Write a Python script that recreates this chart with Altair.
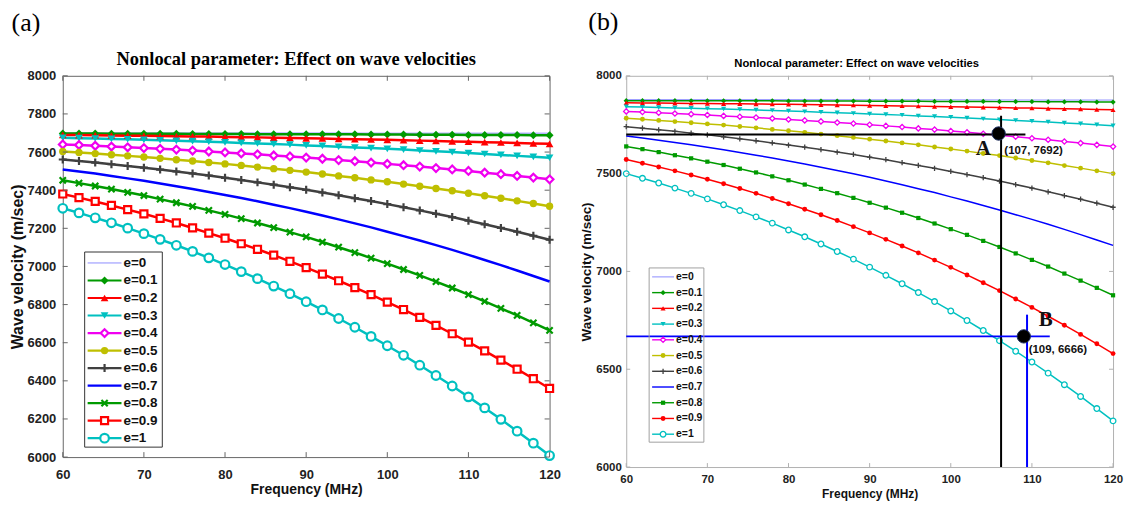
import altair as alt
import pandas as pd

# ---------------- data ----------------
freq = list(range(60, 121, 2))
freq_coarse = [60, 70, 80, 90, 100, 110, 120]
series = ["e=0", "e=0.1", "e=0.2", "e=0.3", "e=0.4", "e=0.5", "e=0.6", "e=0.7", "e=0.8", "e=0.9", "e=1"]
x_ticks = [60, 70, 80, 90, 100, 110, 120]
y_ticks_a = [6000, 6200, 6400, 6600, 6800, 7000, 7200, 7400, 7600, 7800, 8000]
y_ticks_b = [6000, 6500, 7000, 7500, 8000]

# panel (a)
a_e0 = [7700, 7700, 7700, 7700, 7699, 7699, 7699]
a_e01 = [7697, 7697, 7697, 7696, 7696, 7696, 7696, 7696, 7695, 7695, 7695, 7695, 7694, 7694, 7694, 7694,
         7693, 7693, 7693, 7692, 7692, 7692, 7691, 7691, 7691, 7690, 7690, 7689, 7689, 7688, 7688]
a_e02 = [7690, 7689, 7688, 7687, 7686, 7685, 7684, 7683, 7682, 7681, 7679, 7678, 7677, 7675, 7674, 7672,
         7671, 7669, 7667, 7666, 7664, 7662, 7660, 7658, 7656, 7654, 7652, 7650, 7648, 7645, 7643]
a_e03 = [7675, 7673, 7671, 7669, 7667, 7664, 7662, 7659, 7657, 7654, 7651, 7648, 7645, 7642, 7639, 7635,
         7632, 7628, 7624, 7621, 7617, 7613, 7608, 7604, 7600, 7595, 7590, 7585, 7580, 7575, 7570]
a_e04 = [7640, 7637, 7633, 7629, 7625, 7621, 7617, 7613, 7608, 7603, 7598, 7593, 7588, 7582, 7577, 7571,
         7565, 7558, 7552, 7545, 7538, 7531, 7524, 7516, 7509, 7501, 7492, 7484, 7475, 7466, 7457]
a_e05 = [7603, 7598, 7592, 7586, 7580, 7574, 7567, 7560, 7553, 7545, 7538, 7530, 7521, 7513, 7504, 7495,
         7485, 7475, 7465, 7454, 7444, 7432, 7421, 7409, 7397, 7384, 7371, 7358, 7344, 7330, 7316]
a_e06 = [7561, 7553, 7545, 7536, 7527, 7518, 7508, 7498, 7488, 7477, 7465, 7453, 7441, 7429, 7415, 7402,
         7388, 7373, 7358, 7343, 7327, 7311, 7294, 7276, 7259, 7240, 7221, 7202, 7182, 7161, 7140]
a_e07 = [7509, 7498, 7487, 7474, 7462, 7449, 7435, 7421, 7406, 7391, 7375, 7359, 7342, 7324, 7306, 7287,
         7267, 7247, 7226, 7205, 7182, 7159, 7136, 7112, 7087, 7061, 7034, 7007, 6979, 6950, 6921]
a_e08 = [7452, 7437, 7422, 7406, 7389, 7372, 7353, 7334, 7315, 7294, 7273, 7251, 7228, 7204, 7180, 7155,
         7128, 7101, 7073, 7044, 7015, 6984, 6953, 6920, 6887, 6852, 6817, 6780, 6743, 6704, 6665]
a_e09 = [7380, 7361, 7341, 7320, 7298, 7276, 7252, 7228, 7202, 7175, 7148, 7119, 7090, 7059, 7027, 6994,
         6960, 6925, 6889, 6852, 6813, 6774, 6733, 6691, 6647, 6603, 6557, 6509, 6461, 6411, 6360]
a_e1 = [7305, 7281, 7255, 7229, 7201, 7172, 7142, 7111, 7079, 7045, 7010, 6973, 6936, 6897, 6857, 6815,
        6772, 6727, 6681, 6633, 6584, 6534, 6482, 6428, 6373, 6316, 6258, 6198, 6136, 6073, 6008]

# panel (b)
b_e0 = [7878, 7878, 7878, 7877, 7877, 7876, 7876]
b_e01 = [7873, 7873, 7873, 7873, 7872, 7872, 7872, 7872, 7872, 7872, 7871, 7871, 7871, 7871, 7871, 7870,
         7870, 7870, 7870, 7869, 7869, 7869, 7869, 7868, 7868, 7868, 7867, 7867, 7867, 7866, 7866]
b_e02 = [7862, 7861, 7861, 7860, 7859, 7858, 7857, 7857, 7856, 7855, 7854, 7853, 7852, 7851, 7850, 7848,
         7847, 7846, 7845, 7843, 7842, 7841, 7839, 7838, 7836, 7835, 7833, 7831, 7830, 7828, 7826]
b_e03 = [7842, 7840, 7838, 7836, 7834, 7832, 7830, 7828, 7825, 7823, 7820, 7817, 7814, 7811, 7808, 7805,
         7802, 7799, 7795, 7792, 7788, 7784, 7780, 7776, 7772, 7768, 7764, 7759, 7755, 7750, 7745]
b_e04 = [7818, 7815, 7811, 7807, 7804, 7800, 7795, 7791, 7787, 7782, 7777, 7772, 7767, 7761, 7756, 7750,
         7744, 7738, 7731, 7725, 7718, 7711, 7704, 7696, 7689, 7681, 7673, 7664, 7656, 7647, 7638]
b_e05 = [7783, 7778, 7772, 7766, 7760, 7754, 7748, 7741, 7734, 7726, 7719, 7711, 7702, 7694, 7685, 7676,
         7667, 7657, 7647, 7636, 7626, 7615, 7603, 7592, 7580, 7567, 7555, 7541, 7528, 7514, 7500]
b_e06 = [7740, 7732, 7724, 7716, 7707, 7698, 7688, 7678, 7668, 7657, 7646, 7635, 7623, 7610, 7598, 7584,
         7571, 7556, 7542, 7527, 7511, 7495, 7479, 7462, 7444, 7426, 7407, 7388, 7369, 7349, 7328]
b_e07 = [7692, 7682, 7671, 7659, 7647, 7635, 7622, 7608, 7594, 7580, 7565, 7549, 7533, 7516, 7499, 7481,
         7462, 7443, 7423, 7403, 7381, 7360, 7337, 7314, 7290, 7266, 7241, 7215, 7188, 7161, 7133]
b_e08 = [7639, 7625, 7610, 7594, 7578, 7561, 7544, 7525, 7506, 7486, 7466, 7444, 7422, 7400, 7376, 7351,
         7326, 7300, 7273, 7245, 7216, 7187, 7156, 7125, 7092, 7059, 7025, 6989, 6953, 6916, 6878]
b_e09 = [7572, 7553, 7534, 7514, 7493, 7471, 7448, 7424, 7399, 7373, 7346, 7318, 7290, 7260, 7229, 7197,
         7164, 7130, 7095, 7058, 7021, 6982, 6942, 6902, 6859, 6816, 6771, 6725, 6678, 6630, 6580]
b_e1 = [7500, 7476, 7452, 7426, 7399, 7371, 7341, 7311, 7279, 7247, 7212, 7177, 7140, 7102, 7063, 7022,
        6980, 6937, 6892, 6846, 6798, 6749, 6698, 6646, 6592, 6537, 6480, 6421, 6361, 6299, 6236]

# annotations of panel (b)
ann_black_h = {"x": [60], "x2": [109.2], "y": [7700]}
ann_blue_h = {"x": [60], "x2": [112.2], "y": [6668]}
ann_black_v = {"x": [106.2], "y": [6000], "y2": [7796]}
ann_blue_v = {"x": [109.4], "y": [6000], "y2": [6779]}
ann_points = {"x": [105.9, 109.0], "y": [7705, 6668]}
ann_letters = {"x": [104.0, 111.7], "y": [7626, 6753], "t": ["A", "B"]}
ann_coords = {"x": [106.6, 109.6], "y": [7618, 6598], "t": ["(107, 7692)", "(109, 6666)"]}

# ---------------- styles ----------------
colors = ["#8c8cff", "#009a00", "#ff0000", "#00c0c0", "#f000f0", "#bfbf00",
          "#404040", "#0000ff", "#009a00", "#ff0000", "#00c0c0"]
PLUS = "M-1,0H1M0,-1V1"
CROSS = "M-0.75,-0.75L0.75,0.75M-0.75,0.75L0.75,-0.75"
CLOSED = {"diamond", "triangle-up", "triangle-down", "circle", "square"}

SANS = "Liberation Sans, Arial, sans-serif"
NARROW = "Liberation Sans Narrow, Arial Narrow, Liberation Sans, sans-serif"
SERIF = "Liberation Serif, Times New Roman, serif"

A = dict(
    vals=[a_e0, a_e01, a_e02, a_e03, a_e04, a_e05, a_e06, a_e07, a_e08, a_e09, a_e1],
    shapes=[None, "diamond", "triangle-up", "triangle-down", "diamond", "circle", PLUS, None, CROSS, "square", "circle"],
    filled=[False, True, True, True, False, True, False, False, False, False, False],
    sizes=[0, 64, 60, 60, 60, 55, 64, 0, 70, 50, 75],
    mstroke=2.2, lw=2.5, lw0=1.0,
    w=489, h=383, yticks=y_ticks_a, frame="#666666", tick=5,
    lab_size=13, xlp=12, ylp=7, xt_size=14, xtp=1, yt_size=16, ytp=2,
    title="Nonlocal parameter: Effect on wave velocities", t_font=SERIF, t_size=18.5, t_off=1.5, t_dx=-10,
    tag="(a)", tag_dx=3, tag_off=13.5,
    leg=dict(box=(22, 100, 177, 373), rows=(188, 364), line=(25, 59), mark=42, text=61,
             font=13.5, lw=2.2, stroke="#333333", fill="white"),
    ann=False,
)
B = dict(
    vals=[b_e0, b_e01, b_e02, b_e03, b_e04, b_e05, b_e06, b_e07, b_e08, b_e09, b_e1],
    shapes=[None, "diamond", "triangle-up", "triangle-down", "diamond", "circle", PLUS, None, "square", "circle", "circle"],
    filled=[False, True, True, True, False, True, False, False, True, True, False],
    sizes=[0, 28, 26, 26, 28, 24, 28, 0, 18, 24, 32],
    mstroke=1.3, lw=1.5, lw0=1.0,
    w=489, h=393, yticks=y_ticks_b, frame="#b0b0b0", tick=4,
    lab_size=11.5, xlp=7, ylp=5, xt_size=12, xtp=3, yt_size=13.5, ytp=2,
    title="Nonlocal parameter: Effect on wave velocities", t_font=NARROW, t_size=11.3, t_off=0.5, t_dx=-13,
    tag="(b)", tag_dx=9, tag_off=22.7,
    leg=dict(box=(23, 78, 193, 368), rows=(202, 360), line=(26, 48), mark=37, text=50,
             font=10.5, lw=1.4, stroke="#a0a0a0", fill="transparent"),
    ann=True,
)


def build(P):
    rows = []
    for s, arr in zip(series, P["vals"]):
        xs_ = freq_coarse if len(arr) == len(freq_coarse) else freq
        for f, v in zip(xs_, arr):
            rows.append({"s": s, "f": f, "v": v})
    df = pd.DataFrame(rows)

    xsc = alt.Scale(domain=[60, 120], nice=False, zero=False)
    ysc = alt.Scale(domain=[6000, 8000], nice=False, zero=False)
    csc = alt.Scale(domain=series, range=colors)
    ts, W, H = P["tick"], P["w"], P["h"]

    x_lab = alt.Axis(orient="bottom", values=x_ticks, ticks=False, domain=False, grid=False, format="d",
                     labelFont=SANS, labelFontSize=P["lab_size"], labelFontWeight="bold",
                     labelColor="#222222", labelPadding=P["xlp"], labelFlush=False, labelOverlap=False,
                     title="Frequency (MHz)", titleFont=SANS, titleFontSize=P["xt_size"], titleFontWeight="bold",
                     titleColor="#111111", titlePadding=P["xtp"])
    y_lab = alt.Axis(orient="left", values=P["yticks"], ticks=False, domain=False, grid=False, format="d",
                     labelFont=SANS, labelFontSize=P["lab_size"], labelFontWeight="bold",
                     labelColor="#222222", labelPadding=P["ylp"], labelOverlap=False,
                     title="Wave velocity (m/sec)", titleFont=SANS, titleFontSize=P["yt_size"], titleFontWeight="bold",
                     titleColor="#111111", titlePadding=P["ytp"])

    X = lambda fld="f:Q": alt.X(fld, scale=xsc, axis=None)
    Y = lambda fld="v:Q": alt.Y(fld, scale=ysc, axis=None)

    layers = []
    # curves
    layers.append(
        alt.Chart(df).transform_filter(alt.datum.s == "e=0").mark_line(strokeWidth=P["lw0"]).encode(
            x=alt.X("f:Q", scale=xsc, axis=x_lab),
            y=alt.Y("v:Q", scale=ysc, axis=y_lab),
            color=alt.Color("s:N", scale=csc, legend=None),
        )
    )
    layers.append(
        alt.Chart(df).transform_filter(alt.datum.s != "e=0").mark_line(strokeWidth=P["lw"]).encode(
            x=X(), y=Y(), color=alt.Color("s:N", scale=csc, legend=None))
    )
    for s, shp, fil, sz in zip(series, P["shapes"], P["filled"], P["sizes"]):
        if shp is None:
            continue
        kw = dict(shape=shp, filled=fil, size=sz, opacity=1)
        if not fil:
            kw["strokeWidth"] = P["mstroke"]
            if shp in CLOSED:
                kw["fill"] = "white"
        layers.append(
            alt.Chart(df).transform_filter(alt.datum.s == s).mark_point(**kw).encode(
                x=X(), y=Y(), color=alt.Color("s:N", scale=csc, legend=None))
        )

    # inward frame ticks (MATLAB style)
    xt = pd.DataFrame({"t": x_ticks})
    yt = pd.DataFrame({"t": P["yticks"]})
    tk = dict(color=P["frame"], strokeWidth=1)
    layers += [
        alt.Chart(yt).mark_rule(**tk).encode(y=Y("t:Q"), x=alt.value(0), x2=alt.value(ts)),
        alt.Chart(yt).mark_rule(**tk).encode(y=Y("t:Q"), x=alt.value(W - ts), x2=alt.value(W)),
        alt.Chart(xt).mark_rule(**tk).encode(x=X("t:Q"), y=alt.value(0), y2=alt.value(ts)),
        alt.Chart(xt).mark_rule(**tk).encode(x=X("t:Q"), y=alt.value(H - ts), y2=alt.value(H)),
    ]

    if P["ann"]:
        layers += [
            alt.Chart(pd.DataFrame(ann_black_h)).mark_rule(color="black", strokeWidth=2).encode(
                x=X("x:Q"), x2="x2:Q", y=Y("y:Q")),
            alt.Chart(pd.DataFrame(ann_black_v)).mark_rule(color="black", strokeWidth=2).encode(
                x=X("x:Q"), y=Y("y:Q"), y2="y2:Q"),
            alt.Chart(pd.DataFrame(ann_blue_h)).mark_rule(color="#0000ff", strokeWidth=2).encode(
                x=X("x:Q"), x2="x2:Q", y=Y("y:Q")),
            alt.Chart(pd.DataFrame(ann_blue_v)).mark_rule(color="#0000ff", strokeWidth=2).encode(
                x=X("x:Q"), y=Y("y:Q"), y2="y2:Q"),
            alt.Chart(pd.DataFrame(ann_points)).mark_circle(size=180, color="black", opacity=1,
                                                             stroke="#203060", strokeWidth=1).encode(
                x=X("x:Q"), y=Y("y:Q")),
            alt.Chart(pd.DataFrame(ann_letters)).mark_text(
                font=SERIF, fontSize=21, fontWeight="bold", color="#111111", align="center",
                baseline="middle").encode(x=X("x:Q"), y=Y("y:Q"), text="t:N"),
            alt.Chart(pd.DataFrame(ann_coords)).mark_text(
                font=NARROW, fontSize=11.5, fontWeight="bold", color="#111111", align="left",
                baseline="middle").encode(x=X("x:Q"), y=Y("y:Q"), text="t:N"),
        ]

    # legend box drawn from the series list
    L = P["leg"]
    ldf = pd.DataFrame({"s": series})
    box = pd.DataFrame({"k": [0]})
    ly = alt.Y("s:N", scale=alt.Scale(type="point", domain=series, range=list(L["rows"]), padding=0), axis=None)
    layers.append(
        alt.Chart(box).mark_rect(fill=L["fill"], stroke=L["stroke"], strokeWidth=1).encode(
            x=alt.value(L["box"][0]), x2=alt.value(L["box"][1]),
            y=alt.value(L["box"][2]), y2=alt.value(L["box"][3]))
    )
    layers.append(
        alt.Chart(ldf).transform_filter(alt.datum.s == "e=0").mark_rule(strokeWidth=P["lw0"]).encode(
            x=alt.value(L["line"][0]), x2=alt.value(L["line"][1]), y=ly,
            color=alt.Color("s:N", scale=csc, legend=None))
    )
    layers.append(
        alt.Chart(ldf).transform_filter(alt.datum.s != "e=0").mark_rule(strokeWidth=L["lw"]).encode(
            x=alt.value(L["line"][0]), x2=alt.value(L["line"][1]), y=ly,
            color=alt.Color("s:N", scale=csc, legend=None))
    )
    for s, shp, fil, sz in zip(series, P["shapes"], P["filled"], P["sizes"]):
        if shp is None:
            continue
        kw = dict(shape=shp, filled=fil, size=sz, opacity=1)
        if not fil:
            kw["strokeWidth"] = P["mstroke"]
            if shp in CLOSED:
                kw["fill"] = "white"
        layers.append(
            alt.Chart(ldf).transform_filter(alt.datum.s == s).mark_point(**kw).encode(
                x=alt.value(L["mark"]), y=ly, color=alt.Color("s:N", scale=csc, legend=None))
        )
    layers.append(
        alt.Chart(ldf).mark_text(font=SANS, fontSize=L["font"], fontWeight="bold", color="#111111",
                                 align="left", baseline="middle").encode(
            x=alt.value(L["text"]), y=ly, text="s:N")
    )

    chart = alt.layer(*layers).resolve_scale(y="independent").resolve_axis(
        x="independent", y="independent").properties(
        width=W, height=H,
        title=alt.TitleParams(P["title"], font=P["t_font"], fontSize=P["t_size"], fontWeight="bold",
                              color="black", offset=P["t_off"], frame="group", dx=P["t_dx"]),
        view=alt.ViewBackground(stroke=P["frame"], strokeWidth=1),
    )
    return alt.vconcat(chart).properties(
        title=alt.TitleParams(P["tag"], anchor="start", font=SERIF, fontSize=26, fontWeight="normal",
                              color="black", dx=P["tag_dx"], offset=P["tag_off"])
    )


chart = alt.hconcat(build(A), build(B), spacing=17).properties(
    padding={"left": 0, "top": 0, "right": 0, "bottom": 0}, background="white"
)
chart.save("out.html", embed_options={"renderer": "svg", "actions": False})
